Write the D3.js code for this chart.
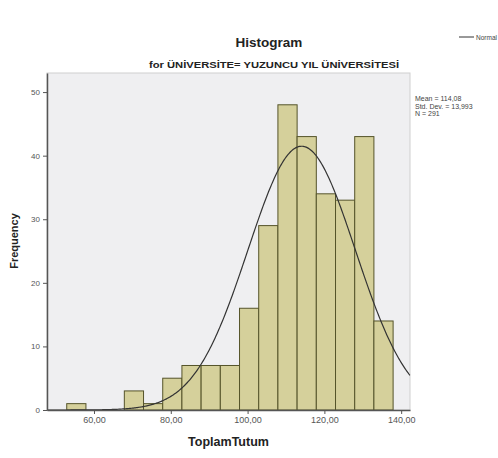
<!DOCTYPE html>
<html>
<head>
<meta charset="utf-8">
<script src="https://cdn.jsdelivr.net/npm/d3@7"></script>
<style>
  html, body { margin: 0; padding: 0; background: #fff; }
  svg { display: block; font-family: "Liberation Sans", Arial, sans-serif; }
</style>
</head>
<body>
<svg id="chart" width="498" height="458"></svg>
<script>
// Histogram bins of ToplamTutum (bin start, width 5) and their frequencies
const binStarts = [52.9, 57.9, 62.9, 67.9, 72.9, 77.9, 82.9, 87.9, 92.9, 97.9, 102.9, 107.9, 112.9, 117.9, 122.9, 127.9, 132.9];
const frequencies = [1, 0, 0, 3, 1, 5, 7, 7, 7, 16, 29, 48, 43, 34, 33, 43, 14];
const binWidth = 5;

// Summary statistics for the normal overlay
const meanValue = 114.08;
const stdDev = 13.993;
const nCount = 291;

const xTickValues = [60, 80, 100, 120, 140];
const xTickLabels = ["60,00", "80,00", "100,00", "120,00", "140,00"];
const yTickValues = [0, 10, 20, 30, 40, 50];
const statLines = ["Mean = 114,08", "Std. Dev. = 13,993", "N = 291"];

const svg = d3.select("#chart");
const plot = { left: 47, right: 410, top: 73, bottom: 410 };

const x = d3.scaleLinear().domain([47.76, 142.3]).range([plot.left, plot.right]);
const y = d3.scaleLinear().domain([0, 53]).range([plot.bottom, plot.top]);

// plot background
svg.append("rect")
  .attr("x", plot.left).attr("y", plot.top)
  .attr("width", plot.right - plot.left).attr("height", plot.bottom - plot.top)
  .attr("fill", "#efeff1")
  .attr("stroke", "#cfcfcf").attr("stroke-width", 1);

// bars
svg.append("g").selectAll("rect")
  .data(binStarts.map((s, i) => ({ s, f: frequencies[i] })).filter(d => d.f > 0))
  .join("rect")
  .attr("x", d => x(d.s))
  .attr("y", d => y(d.f))
  .attr("width", d => x(d.s + binWidth) - x(d.s))
  .attr("height", d => y(0) - y(d.f))
  .attr("fill", "#d5d09b")
  .attr("stroke", "#55542a")
  .attr("stroke-width", 1);

// normal curve scaled to counts
const normal = v => nCount * binWidth / (stdDev * Math.sqrt(2 * Math.PI)) *
  Math.exp(-0.5 * Math.pow((v - meanValue) / stdDev, 2));
const curveX = d3.range(x.domain()[0], x.domain()[1] + 0.01, 0.25);
svg.append("path")
  .datum(curveX)
  .attr("fill", "none")
  .attr("stroke", "#333")
  .attr("stroke-width", 1.2)
  .attr("d", d3.line().x(v => x(v)).y(v => y(normal(v))));

// axes
const xAxis = d3.axisBottom(x).tickValues(xTickValues)
  .tickFormat((d, i) => xTickLabels[i]).tickSize(4).tickSizeOuter(0);
const gx = svg.append("g").attr("transform", `translate(0,${plot.bottom})`).call(xAxis);
gx.select(".domain").attr("stroke", "#555").attr("stroke-width", 1.5);
gx.selectAll(".tick line").attr("stroke", "#555");
gx.selectAll(".tick text").attr("fill", "#555").attr("font-size", 9)
  .attr("font-family", "Liberation Sans, Arial, sans-serif");

const yAxis = d3.axisLeft(y).tickValues(yTickValues).tickSize(4).tickSizeOuter(0);
const gy = svg.append("g").attr("transform", `translate(${plot.left},0)`).call(yAxis);
gy.select(".domain").attr("stroke", "#555").attr("stroke-width", 1.5);
gy.selectAll(".tick line").attr("stroke", "#555");
gy.selectAll(".tick text").attr("fill", "#555").attr("font-size", 8)
  .attr("font-family", "Liberation Sans, Arial, sans-serif");

// titles
svg.append("text").attr("x", 269).attr("y", 47)
  .attr("text-anchor", "middle").attr("font-weight", "bold").attr("font-size", 13.5)
  .attr("fill", "#222").text("Histogram");
svg.append("text").attr("x", 274).attr("y", 68)
  .attr("text-anchor", "middle").attr("font-weight", "bold").attr("font-size", 9.5)
  .attr("textLength", 250).attr("lengthAdjust", "spacingAndGlyphs")
  .attr("fill", "#222").text("for ÜNİVERSİTE= YUZUNCU YIL ÜNİVERSİTESİ");

// axis titles
svg.append("text").attr("x", (plot.left + plot.right) / 2).attr("y", 446)
  .attr("text-anchor", "middle").attr("font-weight", "bold").attr("font-size", 12.5)
  .attr("fill", "#222").text("ToplamTutum");
svg.append("text").attr("transform", "translate(18,241) rotate(-90)")
  .attr("text-anchor", "middle").attr("font-weight", "bold").attr("font-size", 11)
  .attr("fill", "#222").text("Frequency");

// statistics
svg.append("g").selectAll("text").data(statLines).join("text")
  .attr("x", 415).attr("y", (d, i) => 101 + i * 7.5)
  .attr("font-size", 7).attr("fill", "#444").text(d => d);

// legend
svg.append("line").attr("x1", 459).attr("x2", 474).attr("y1", 37).attr("y2", 37)
  .attr("stroke", "#333").attr("stroke-width", 1);
svg.append("text").attr("x", 476).attr("y", 39.5)
  .attr("font-size", 6.5).attr("fill", "#444").text("Normal");
</script>
</body>
</html>
